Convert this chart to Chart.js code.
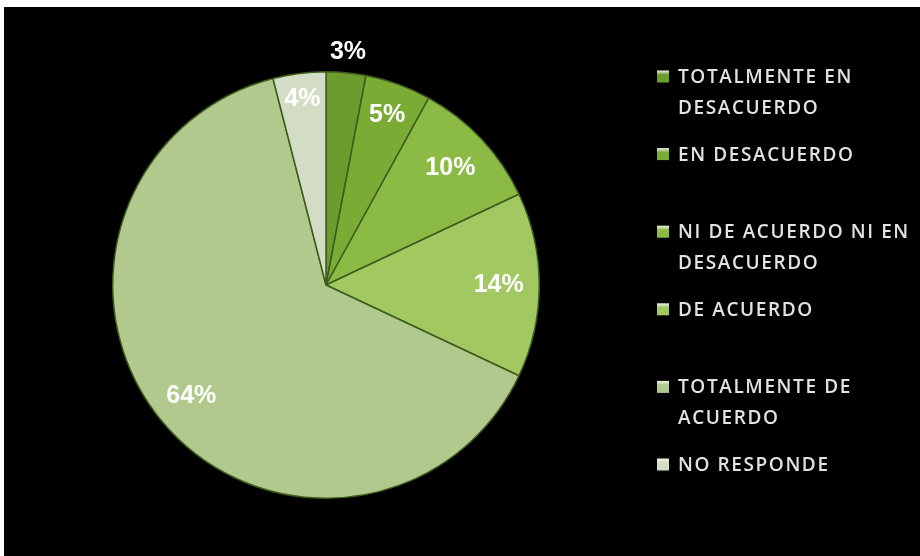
<!DOCTYPE html>
<html>
<head>
<meta charset="utf-8">
<script src="https://cdn.jsdelivr.net/npm/chart.js@4"></script>
<style>
  html, body { margin: 0; padding: 0; background: #fff; }
  #frame { position: absolute; left: 4px; top: 7px; width: 916px; height: 549px; background: #000; }
  canvas { display: block; }
</style>
</head>
<body>
<div id="frame"><canvas id="pie" width="916" height="549"></canvas></div>
<script>
// Survey answers (share of respondents, %)
const categories = [
  ['TOTALMENTE EN', 'DESACUERDO'],
  ['EN DESACUERDO'],
  ['NI DE ACUERDO NI EN', 'DESACUERDO'],
  ['DE ACUERDO'],
  ['TOTALMENTE DE', 'ACUERDO'],
  ['NO RESPONDE']
];
const percentages = [3, 5, 10, 14, 64, 4];

// Slice fills, from darkest green to pale grey-green
const sliceColors = ['#6c9c2e', '#7aab35', '#8cbb45', '#a2c862', '#b2c98e', '#d3dcc4'];

// Distance of each percentage label from the centre, as a fraction of the radius
const labelRadius = [1.095, 0.845, 0.80, 0.81, 0.82, 0.88];

const percentLabels = {
  id: 'percentLabels',
  afterDatasetsDraw(chart) {
    const ctx = chart.ctx;
    const meta = chart.getDatasetMeta(0);
    ctx.save();
    ctx.font = 'bold 25px "Liberation Sans", Arial, sans-serif';
    ctx.fillStyle = '#ffffff';
    ctx.textAlign = 'center';
    ctx.textBaseline = 'middle';
    meta.data.forEach((arc, i) => {
      const p = arc.getProps(['x', 'y', 'startAngle', 'endAngle', 'outerRadius'], true);
      const mid = (p.startAngle + p.endAngle) / 2;
      const r = p.outerRadius * labelRadius[i];
      const v = chart.data.datasets[0].data[i];
      ctx.fillText(v + '%', p.x + Math.cos(mid) * r, p.y + Math.sin(mid) * r);
    });
    ctx.restore();
  }
};

const sideLegend = {
  id: 'sideLegend',
  afterDraw(chart) {
    const ctx = chart.ctx;
    const labels = chart.data.labels;
    const colors = chart.data.datasets[0].backgroundColor;
    const boxX = 653, textX = 674, firstY = 69.5, step = 77.6, lineH = 31, box = 12;
    ctx.save();
    ctx.font = '600 19px "Open Sans", "Noto Sans", sans-serif';
    if ('letterSpacing' in ctx) ctx.letterSpacing = '1.6px';
    ctx.textBaseline = 'middle';
    ctx.textAlign = 'left';
    labels.forEach((lines, i) => {
      const y = firstY + i * step;
      const g = ctx.createLinearGradient(0, y - box / 2, 0, y + box / 2);
      g.addColorStop(0, '#f0f4e8');
      g.addColorStop(0.35, colors[i]);
      g.addColorStop(1, colors[i]);
      ctx.fillStyle = g;
      ctx.fillRect(boxX, y - box / 2, box, box);
      ctx.fillStyle = '#e2e2e2';
      lines.forEach((line, j) => ctx.fillText(line, textX, y + j * lineH + 1));
    });
    ctx.restore();
  }
};

new Chart(document.getElementById('pie'), {
  type: 'pie',
  data: {
    labels: categories,
    datasets: [{
      data: percentages,
      backgroundColor: sliceColors,
      borderColor: '#3e5c1c',
      borderWidth: 1.5
    }]
  },
  options: {
    responsive: false,
    animation: false,
    devicePixelRatio: 1,
    layout: { padding: { top: 64, bottom: 57, left: 108, right: 380 } },
    plugins: {
      legend: { display: false },
      tooltip: { enabled: false }
    }
  },
  plugins: [percentLabels, sideLegend]
});
</script>
</body>
</html>
